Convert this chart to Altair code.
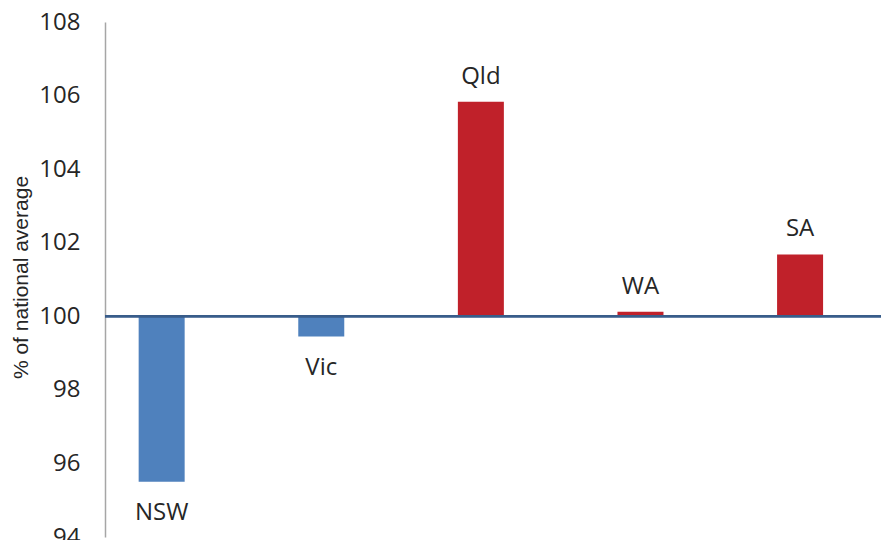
import altair as alt
import pandas as pd

states = ["NSW", "Vic", "Qld", "WA", "SA"]
values = [95.50, 99.45, 105.83, 100.12, 101.68]
colors = ["#4F81BD", "#4F81BD", "#C0212A", "#C0212A", "#C0212A"]
y_ticks = [94, 96, 98, 100, 102, 104, 106, 108]
baseline = 100

df = pd.DataFrame({
    "state": states,
    "value": values,
    "idx": list(range(len(states))),
    "color": colors,
    "base": [baseline] * len(states),
})

FONT = "Open Sans"
PLOT_W = 776
PLOT_H = 515

x_scale = alt.Scale(domain=[-0.355, 4.507], nice=False, zero=False, padding=0)
y_scale = alt.Scale(domain=[94, 108], nice=False, zero=False, padding=0)

x_enc = alt.X("idx:Q", scale=x_scale, axis=None)

bars = alt.Chart(df).mark_bar(size=46).encode(
    x=x_enc,
    y=alt.Y(
        "value:Q",
        scale=y_scale,
        axis=alt.Axis(
            values=y_ticks,
            title="% of national average",
            titleFont="Liberation Sans",
            titleFontSize=21,
            titleFontWeight="normal",
            titleColor="#262626",
            titleX=-84,
            titleY=255,
            titleAngle=270,
            titleAlign="center",
            titleBaseline="middle",
            labelFont=FONT,
            labelFontSize=24,
            labelColor="#262626",
            labelPadding=25,
            ticks=False,
            grid=False,
            domainColor="#A6A6A6",
            domainWidth=1.5,
        ),
    ),
    y2="base:Q",
    color=alt.Color("color:N", scale=None, legend=None),
)

zero_line = alt.Chart(df).mark_rule(color="#385D8A", strokeWidth=2).encode(
    y=alt.Y("base:Q", scale=y_scale),
    x=alt.value(0),
    x2=alt.value(PLOT_W),
)

labels_up = alt.Chart(df).transform_filter(alt.datum.value >= baseline).mark_text(
    font=FONT, fontSize=24, color="#262626", baseline="alphabetic", dy=-18
).encode(
    x=x_enc,
    y=alt.Y("value:Q", scale=y_scale),
    text="state:N",
)

labels_down = alt.Chart(df).transform_filter(alt.datum.value < baseline).mark_text(
    font=FONT, fontSize=24, color="#262626", baseline="alphabetic", dy=38
).encode(
    x=x_enc,
    y=alt.Y("value:Q", scale=y_scale),
    text="state:N",
)

chart = alt.layer(bars, zero_line, labels_up, labels_down).properties(
    width=PLOT_W,
    height=PLOT_H,
    autosize=alt.AutoSizeParams(type="none"),
    padding={"left": 97, "top": 14, "right": 0, "bottom": 3},
).configure_view(stroke=None)

chart.save("out.html", embed_options={"renderer": "svg", "actions": False})
